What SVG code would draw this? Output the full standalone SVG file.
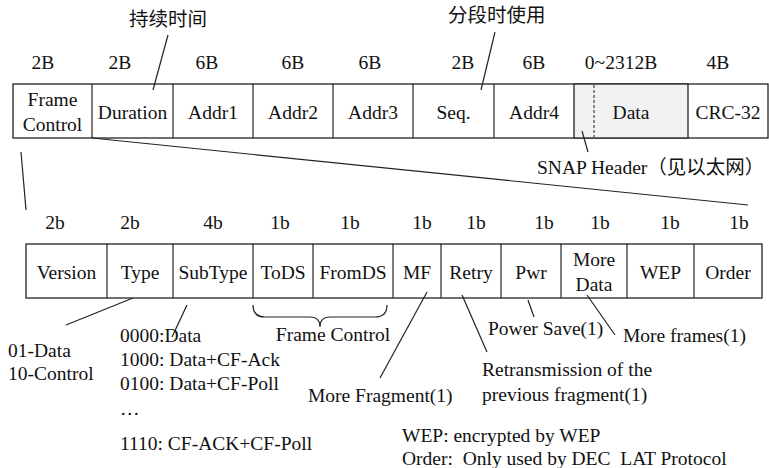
<svg xmlns="http://www.w3.org/2000/svg" width="769" height="468" viewBox="0 0 769 468">
<style>
text{font-family:"Liberation Serif","Times New Roman",serif;font-size:19.5px;fill:#111;white-space:pre}
.c{text-anchor:middle}
.cjk{font-family:"Noto Sans CJK SC","Noto Sans",sans-serif;font-size:19.5px}
.box{fill:#fff;stroke:#222;stroke-width:1.3}
.ln{stroke:#222;stroke-width:1.2;fill:none}
</style>
<rect width="769" height="468" fill="#fff"/>
<g id="top-row">
<rect class="box" x="13" y="84" width="755" height="54"/>
<rect x="574" y="84" width="114" height="54" fill="#f2f2f2" stroke="#222" stroke-width="1.3"/>
<line x1="594" y1="85" x2="594" y2="137" stroke="#333" stroke-width="1.1" stroke-dasharray="3,2"/>
<g class="ln">
<line x1="92" y1="84" x2="92" y2="138"/><line x1="173" y1="84" x2="173" y2="138"/><line x1="253" y1="84" x2="253" y2="138"/><line x1="333" y1="84" x2="333" y2="138"/><line x1="413" y1="84" x2="413" y2="138"/><line x1="494" y1="84" x2="494" y2="138"/>
</g>
<text class="c" x="52.5" y="106">Frame</text><text class="c" x="52.5" y="131">Control</text>
<text class="c" x="132.5" y="119">Duration</text>
<text class="c" x="213" y="119">Addr1</text>
<text class="c" x="293" y="119">Addr2</text>
<text class="c" x="373" y="119">Addr3</text>
<text class="c" x="453.5" y="119">Seq.</text>
<text class="c" x="534" y="119">Addr4</text>
<text class="c" x="631" y="119">Data</text>
<text class="c" x="728" y="119">CRC-32</text>
<text class="c" x="43" y="69">2B</text><text class="c" x="120" y="69">2B</text><text class="c" x="207" y="69">6B</text><text class="c" x="293" y="69">6B</text><text class="c" x="370" y="69">6B</text><text class="c" x="463" y="69">2B</text><text class="c" x="534" y="69">6B</text><text class="c" x="621" y="69">0~2312B</text><text class="c" x="718" y="69">4B</text>
</g>
<g id="bottom-row">
<rect class="box" x="26" y="244" width="736" height="54"/>
<g class="ln">
<line x1="107" y1="244" x2="107" y2="298"/><line x1="173" y1="244" x2="173" y2="298"/><line x1="253" y1="244" x2="253" y2="298"/><line x1="313" y1="244" x2="313" y2="298"/><line x1="393" y1="244" x2="393" y2="298"/><line x1="441" y1="244" x2="441" y2="298"/><line x1="501" y1="244" x2="501" y2="298"/><line x1="561" y1="244" x2="561" y2="298"/><line x1="627" y1="244" x2="627" y2="298"/><line x1="694" y1="244" x2="694" y2="298"/>
</g>
<text class="c" x="66.5" y="279">Version</text>
<text class="c" x="140" y="279">Type</text>
<text class="c" x="213" y="279">SubType</text>
<text class="c" x="283" y="279">ToDS</text>
<text class="c" x="353" y="279">FromDS</text>
<text class="c" x="417" y="279">MF</text>
<text class="c" x="471" y="279">Retry</text>
<text class="c" x="531" y="279">Pwr</text>
<text class="c" x="594" y="266">More</text><text class="c" x="594" y="291">Data</text>
<text class="c" x="660.5" y="279">WEP</text>
<text class="c" x="728" y="279">Order</text>
<text class="c" x="55" y="229">2b</text><text class="c" x="130" y="229">2b</text><text class="c" x="213" y="229">4b</text><text class="c" x="280" y="229">1b</text><text class="c" x="350" y="229">1b</text><text class="c" x="422" y="229">1b</text><text class="c" x="476" y="229">1b</text><text class="c" x="544" y="229">1b</text><text class="c" x="600" y="229">1b</text><text class="c" x="670" y="229">1b</text><text class="c" x="739" y="229">1b</text>
</g>
<g id="connectors" class="ln">
<line x1="168" y1="35" x2="153" y2="90"/>
<line x1="495" y1="32" x2="481" y2="90"/>
<line x1="582" y1="131" x2="588" y2="152"/>
<line x1="21" y1="152" x2="26" y2="210"/>
<line x1="92" y1="138" x2="748" y2="205"/>
<line x1="133" y1="298" x2="66" y2="325"/>
<line x1="187" y1="305" x2="172" y2="337"/>
<path d="M253,305 Q253,317 265,317 L310,317 Q320,317 320,327 Q320,317 330,317 L375,317 Q387,317 387,305"/>
<line x1="427" y1="292" x2="380" y2="378"/>
<line x1="462" y1="295" x2="487" y2="352"/>
<line x1="528" y1="300" x2="534" y2="317"/>
<line x1="587" y1="295" x2="615" y2="335"/>
</g>
<g id="labels">
<text class="cjk" x="129" y="26">持续时间</text>
<text class="cjk" x="448" y="22">分段时使用</text>
<text x="537" y="174">SNAP Header<tspan class="cjk">（见以太网）</tspan></text>
<text x="8" y="357">01-Data</text>
<text x="8" y="380">10-Control</text>
<text x="120" y="342">0000:Data</text>
<text x="120" y="366">1000: Data+CF-Ack</text>
<text x="120" y="390">0100: Data+CF-Poll</text>
<text x="120" y="415">…</text>
<text x="120" y="450">1110: CF-ACK+CF-Poll</text>
<text class="c" x="333" y="341">Frame Control</text>
<text x="308" y="402">More Fragment(1)</text>
<text x="482" y="376">Retransmission of the</text>
<text x="482" y="401">previous fragment(1)</text>
<text x="488" y="335">Power Save(1)</text>
<text x="623" y="342">More frames(1)</text>
<text x="402" y="442">WEP: encrypted by WEP</text>
<text x="402" y="465">Order:  Only used by DEC  LAT Protocol</text>
</g>
</svg>
